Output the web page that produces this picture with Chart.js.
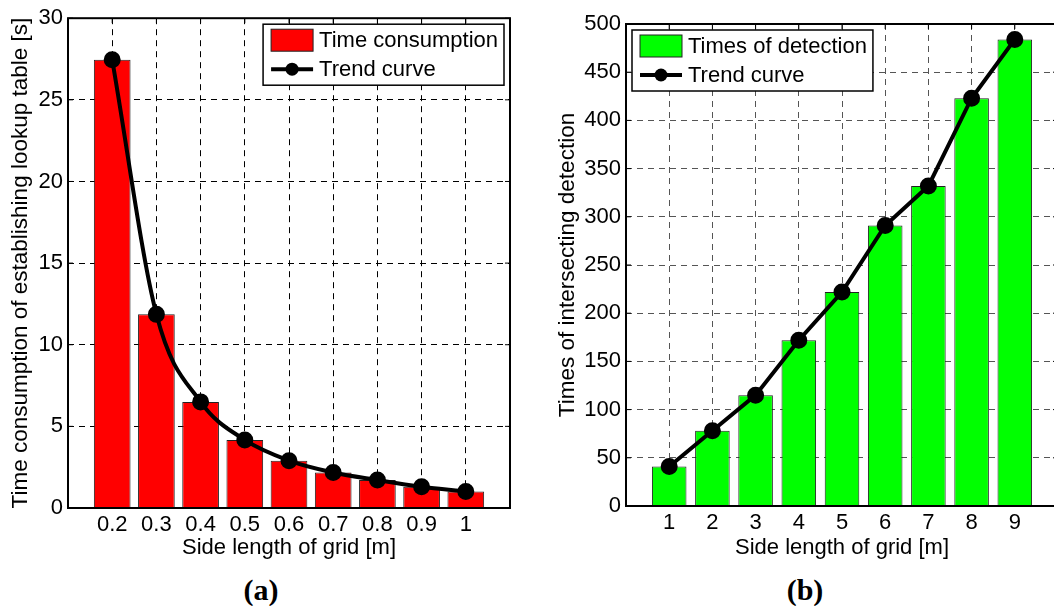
<!DOCTYPE html>
<html lang="en">
<head>
<meta charset="UTF-8">
<title>Lookup table and detection vs grid size</title>
<script src="https://cdn.jsdelivr.net/npm/chart.js"></script>
<style>
    html, body { margin: 0; padding: 0; background: #fff; overflow: hidden; }
    body { position: relative; width: 1054px; height: 606px; }
    .panel { position: absolute; top: 0; height: 565px; }
    .cap { position: absolute; top: 572px; width: 80px; text-align: center;
           font: bold 30px "Liberation Serif", "Times New Roman", serif; line-height: 36px; }
</style>
</head>
<body>
<div class="panel" style="left:0; width:525px;"><canvas id="chartA"></canvas></div>
<div class="panel" style="left:530px; width:540px;"><canvas id="chartB"></canvas></div>
<div class="cap" style="left:221px;">(a)</div>
<div class="cap" style="left:765px;">(b)</div>

<script>
// (a) time for building the lookup table
const gridA = [0.2, 0.3, 0.4, 0.5, 0.6, 0.7, 0.8, 0.9, 1];
const timeA = [27.45, 11.86, 6.5, 4.17, 2.9, 2.17, 1.71, 1.3, 1.01];
const yTicksA = [0, 5, 10, 15, 20, 25, 30];

// (b) number of intersection tests
const gridB = [1, 2, 3, 4, 5, 6, 7, 8, 9];
const countB = [41, 78, 115, 172, 222, 291, 332, 423, 484];
const yTicksB = [0, 50, 100, 150, 200, 250, 300, 350, 400, 450, 500];

const FONT = '"Liberation Sans", Arial, sans-serif';
Chart.defaults.font.family = FONT;
Chart.defaults.font.size = 22;
Chart.defaults.color = '#000';

// matlab-ish box: inner ticks, frame, legend in a bordered box
const matlabBox = {
    id: 'matlabBox',
    beforeDatasetsDraw(chart) {
        const { ctx, chartArea: a, scales } = chart;
        ctx.save();
        ctx.strokeStyle = '#000';
        ctx.lineWidth = 1;
        ctx.beginPath();
        scales.x.ticks.forEach(t => {
            const px = scales.x.getPixelForValue(t.value);
            ctx.moveTo(px, a.bottom); ctx.lineTo(px, a.bottom - 5);
            ctx.moveTo(px, a.top); ctx.lineTo(px, a.top + 5);
        });
        scales.y.ticks.forEach(t => {
            const py = scales.y.getPixelForValue(t.value);
            ctx.moveTo(a.left, py); ctx.lineTo(a.left + 5, py);
            ctx.moveTo(a.right, py); ctx.lineTo(a.right - 5, py);
        });
        ctx.stroke();
        ctx.restore();
    },
    afterDatasetsDraw(chart, args, opts) {
        const { ctx, chartArea: a } = chart;
        const [bars, line] = chart.data.datasets;
        ctx.save();
        ctx.strokeStyle = '#000';
        ctx.lineWidth = 2;
        ctx.strokeRect(a.left, a.top, a.width, a.height);

        ctx.font = '22px ' + FONT;
        const tw = Math.max(ctx.measureText(bars.label).width, ctx.measureText(line.label).width);
        const w = 8 + 42 + 6 + tw + 6;
        const h = 61;
        const x = opts.side === 'right' ? a.right - 6 - w : a.left + 6;
        const y = a.top + 6;
        ctx.fillStyle = '#fff';
        ctx.fillRect(x, y, w, h);
        ctx.lineWidth = 1.5;
        ctx.strokeRect(x, y, w, h);

        const r1 = y + 16, r2 = y + 45;
        ctx.fillStyle = bars.backgroundColor;
        ctx.fillRect(x + 8, r1 - 11, 42, 22);
        ctx.strokeStyle = bars.borderColor;
        ctx.lineWidth = 1;
        ctx.strokeRect(x + 8, r1 - 11, 42, 22);

        ctx.strokeStyle = line.borderColor;
        ctx.lineWidth = line.borderWidth;
        ctx.beginPath();
        ctx.moveTo(x + 8, r2); ctx.lineTo(x + 50, r2);
        ctx.stroke();
        ctx.fillStyle = line.pointBackgroundColor;
        ctx.beginPath();
        ctx.arc(x + 29, r2, line.pointRadius, 0, Math.PI * 2);
        ctx.fill();

        ctx.fillStyle = '#000';
        ctx.textBaseline = 'middle';
        ctx.fillText(bars.label, x + 56, r1 + 1);
        ctx.fillText(line.label, x + 56, r2 + 1);
        ctx.restore();
    }
};

function makeChart(id, cfg) {
    const pts = cfg.cats.map((c, i) => ({ x: c, y: cfg.vals[i] }));
    return new Chart(document.getElementById(id), {
        type: 'bar',
        data: {
            datasets: [{
                type: 'bar',
                label: cfg.barLabel,
                data: pts,
                backgroundColor: cfg.barColor,
                borderColor: '#222',
                borderWidth: 1,
                barPercentage: cfg.barPct,
                categoryPercentage: 1,
                order: 2
            }, {
                type: 'line',
                label: 'Trend curve',
                data: pts,
                borderColor: '#000',
                borderWidth: 4,
                pointRadius: 6.5,
                pointBackgroundColor: '#000',
                pointBorderColor: '#000',
                cubicInterpolationMode: cfg.smooth ? 'monotone' : 'default',
                order: 1
            }]
        },
        options: {
            responsive: true,
            maintainAspectRatio: false,
            animation: false,
            layout: { padding: cfg.pad },
            plugins: {
                legend: { display: false },
                tooltip: { enabled: false },
                matlabBox: { side: cfg.legendSide }
            },
            scales: {
                x: {
                    type: 'linear',
                    offset: false,
                    min: cfg.xMin,
                    max: cfg.xMax,
                    afterBuildTicks: s => { s.ticks = cfg.cats.map(v => ({ value: v })); },
                    afterFit: s => { s.height = cfg.xAxisH; },
                    ticks: { padding: 4, font: { size: 22 }, callback: v => String(+v.toFixed(2)) },
                    grid: { offset: false, color: cfg.gridColor, lineWidth: 1, drawTicks: false },
                    border: { display: false, dash: [6, 5] },
                    title: { display: true, text: 'Side length of grid [m]', font: { size: 22 } }
                },
                y: {
                    min: 0,
                    max: cfg.yMax,
                    afterBuildTicks: s => { s.ticks = cfg.yTicks.map(v => ({ value: v })); },
                    afterFit: s => { s.width = cfg.yAxisW; },
                    ticks: { padding: 5, font: { size: 22 } },
                    grid: { color: cfg.gridColor, lineWidth: 1, drawTicks: false },
                    border: { display: false, dash: [6, 5] },
                    title: { display: true, text: cfg.yTitle, font: { size: 22.5 },
                             padding: { top: cfg.yTitlePad, bottom: 4 } }
                }
            }
        },
        plugins: [matlabBox]
    });
}

makeChart('chartA', {
    cats: gridA, vals: timeA, yTicks: yTicksA, yMax: 30,
    xMin: 0.1, xMax: 1.1,
    barLabel: 'Time consumption', barColor: '#ff0000', barPct: 0.83,
    smooth: true, legendSide: 'right', gridColor: '#000',
    yTitle: 'Time consumption of establishing lookup table [s]', yTitlePad: 7,
    pad: { top: 17, right: 15, left: 0, bottom: 0 }, xAxisH: 57, yAxisW: 68
});

makeChart('chartB', {
    cats: gridB, vals: countB, yTicks: yTicksB, yMax: 500,
    xMin: 0, xMax: 10,
    barLabel: 'Times of detection', barColor: '#00ff00', barPct: 0.8,
    smooth: false, legendSide: 'left', gridColor: '#555',
    yTitle: 'Times of intersecting detection', yTitlePad: 24,
    pad: { top: 24, right: 12, left: 0, bottom: 0 }, xAxisH: 59, yAxisW: 96
});
</script>
</body>
</html>
